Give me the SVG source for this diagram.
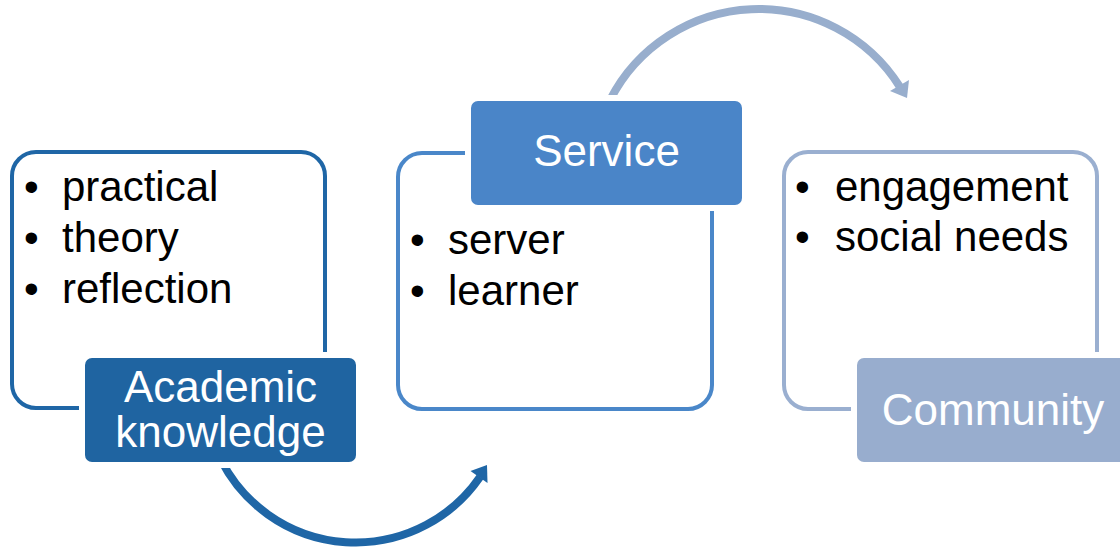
<svg xmlns="http://www.w3.org/2000/svg" width="1120" height="548" viewBox="0 0 1120 548">
<style>
  .frame { fill: #ffffff; stroke-width: 4; }
  .halo { fill: #ffffff; }
  .lt { font-family: "Liberation Sans", Arial, sans-serif; font-size: 44px; fill: #ffffff; text-anchor: middle; }
  .bt { font-family: "Liberation Sans", Arial, sans-serif; font-size: 42px; fill: #000000; }
  .arc { fill: none; stroke-width: 8; }
</style>
<rect width="1120" height="548" fill="#ffffff"/>
<g id="connectors">
  <path class="arc" stroke="#1f66a6" d="M 221 460 A 151 151 0 0 0 480 477"/>
  <polygon fill="#1f66a6" points="487,465 470.5,471 487.5,483"/>
  <path class="arc" stroke="#98aecd" d="M 610 100 A 167 167 0 0 1 900 87"/>
  <polygon fill="#98aecd" points="907,98 890,91 909,80"/>
</g>
<g id="academic">
  <rect class="frame" stroke="#1f66a6" x="12" y="152" width="313" height="256" rx="24"/>
  <text class="bt"><tspan x="24" y="201">•</tspan><tspan x="62" y="201">practical</tspan></text>
  <text class="bt"><tspan x="24" y="252">•</tspan><tspan x="62" y="252">theory</tspan></text>
  <text class="bt"><tspan x="24" y="303">•</tspan><tspan x="62" y="303">reflection</tspan></text>
  <rect class="halo" x="79" y="352" width="283" height="116" rx="10"/>
  <rect fill="#1f64a1" x="85" y="358" width="271" height="104" rx="7"/>
  <text class="lt" x="220.5" y="402">Academic</text>
  <text class="lt" x="220.5" y="447">knowledge</text>
</g>
<g id="service">
  <rect class="frame" stroke="#4a87c9" x="398" y="153" width="314" height="256" rx="24"/>
  <text class="bt"><tspan x="410" y="254">•</tspan><tspan x="448" y="254">server</tspan></text>
  <text class="bt"><tspan x="410" y="305">•</tspan><tspan x="448" y="305">learner</tspan></text>
  <rect class="halo" x="465" y="95" width="283" height="116" rx="10"/>
  <rect fill="#4a85c8" x="471" y="101" width="271" height="104" rx="7"/>
  <text class="lt" x="606.5" y="166">Service</text>
</g>
<g id="community">
  <rect class="frame" stroke="#9aafd0" x="784" y="152" width="313" height="257" rx="24"/>
  <text class="bt"><tspan x="795" y="201">•</tspan><tspan x="835" y="201">engagement</tspan></text>
  <text class="bt"><tspan x="795" y="251">•</tspan><tspan x="835" y="251">social needs</tspan></text>
  <rect class="halo" x="851" y="352" width="283" height="116" rx="10"/>
  <rect fill="#98adce" x="857" y="358" width="271" height="104" rx="7"/>
  <text class="lt" x="993" y="425">Community</text>
</g>
</svg>
